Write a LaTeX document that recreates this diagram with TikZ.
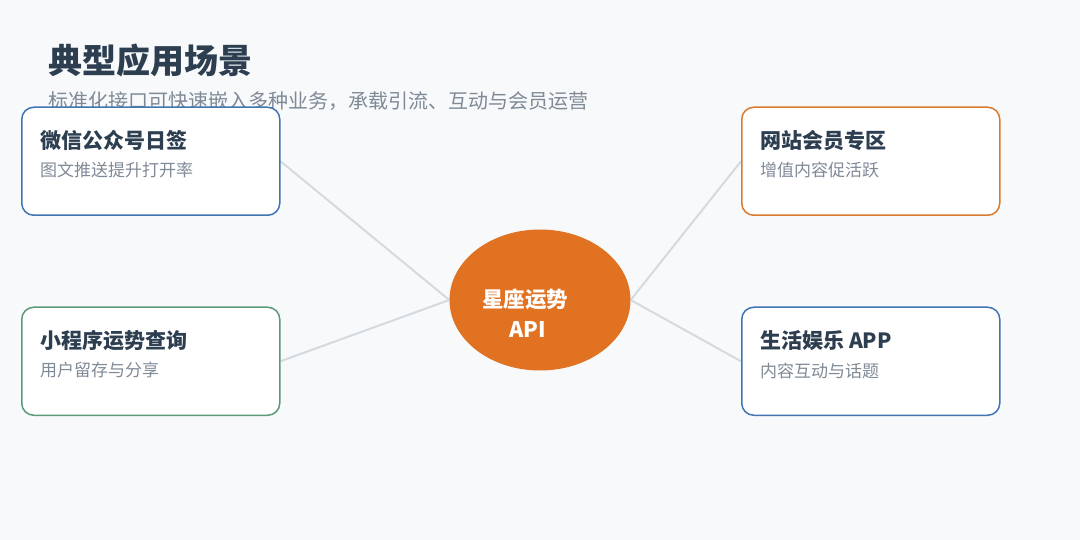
\documentclass[tikz,border=0pt]{standalone}
\usepackage{fontspec}
\setmainfont{Noto Sans CJK SC}
\usetikzlibrary{shapes.geometric}
\pgfdeclarelayer{edges}
\pgfdeclarelayer{bg}
\pgfsetlayers{bg,edges,main}
\definecolor{bgc}{HTML}{F7F9FB}
\definecolor{ink}{HTML}{2C3E50}
\definecolor{muted}{HTML}{7F8A96}
\definecolor{linec}{HTML}{D3DBE1}
\definecolor{cblue}{HTML}{3F75B0}
\definecolor{cgreen}{HTML}{5A9A7A}
\definecolor{corange}{HTML}{D97A2E}
\definecolor{cfill}{HTML}{E07222}
\tikzset{
  card/.style={draw=#1, line width=1.5pt, fill=white, rounded corners=12pt,
    minimum width=258pt, minimum height=108pt, inner sep=0pt},
  cardtitle/.style={anchor=west, inner sep=0pt, text=ink, font=\fontsize{21pt}{24pt}\selectfont\bfseries},
  cardsub/.style={anchor=west, inner sep=0pt, text=muted, font=\fontsize{17pt}{20pt}\selectfont},
  link/.style={draw=linec, line width=2pt},
}
\begin{document}
\begin{tikzpicture}[x=1pt,y=-1pt]
\begin{pgfonlayer}{bg}
\fill[bgc] (0,0) rectangle (1080,540);
\end{pgfonlayer}
\useasboundingbox (0,0) rectangle (1080,540);

\node[anchor=west, inner sep=0pt, text=ink, font=\fontsize{34pt}{38pt}\selectfont\bfseries] (title) at (48,61) {典型应用场景};
\node[anchor=west, inner sep=0pt, text=muted, font=\fontsize{20pt}{24pt}\selectfont] (subtitle) at (48,101) {标准化接口可快速嵌入多种业务，承载引流、互动与会员运营};

\node[card=cblue, anchor=north west] (b1) at (21,106.5) {};
\node[cardtitle] (b1t) at ([xshift=19pt,yshift=-34pt]b1.north west) {微信公众号日签};
\node[cardsub] (b1s) at ([xshift=19pt,yshift=-64pt]b1.north west) {图文推送提升打开率};

\node[card=cgreen, anchor=north west] (b2) at (21,306.5) {};
\node[cardtitle] (b2t) at ([xshift=19pt,yshift=-34pt]b2.north west) {小程序运势查询};
\node[cardsub] (b2s) at ([xshift=19pt,yshift=-64pt]b2.north west) {用户留存与分享};

\node[card=corange, anchor=north west] (b3) at (741,106.5) {};
\node[cardtitle] (b3t) at ([xshift=19pt,yshift=-34pt]b3.north west) {网站会员专区};
\node[cardsub] (b3s) at ([xshift=19pt,yshift=-64pt]b3.north west) {增值内容促活跃};

\node[card=cblue, anchor=north west] (b4) at (741,306.5) {};
\node[cardtitle] (b4t) at ([xshift=19pt,yshift=-34pt]b4.north west) {生活娱乐 APP};
\node[cardsub] (b4s) at ([xshift=19pt,yshift=-64pt]b4.north west) {内容互动与话题};

\node[ellipse, fill=cfill, minimum width=181pt, minimum height=141pt, inner sep=0pt] (api) at (540,300) {};
\node[align=center, text=white, inner sep=0pt, font=\fontsize{21.5pt}{30pt}\selectfont\bfseries] (apit) at (525,313) {星座运势\\\hspace*{6pt}API};

\begin{pgfonlayer}{edges}
\draw[link] (b1.east) -- (api.west);
\draw[link] (b2.east) -- (api.west);
\draw[link] (b3.west) -- (api.east);
\draw[link] (b4.west) -- (api.east);
\end{pgfonlayer}
\end{tikzpicture}
\end{document}
